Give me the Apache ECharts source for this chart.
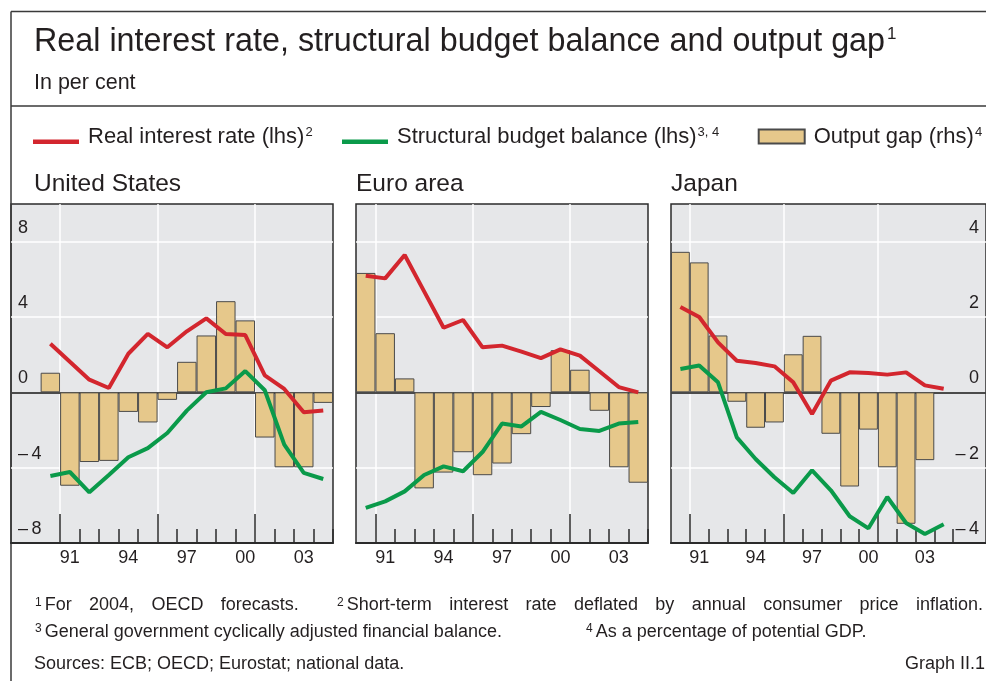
<!DOCTYPE html>
<html><head><meta charset="utf-8">
<script src="https://cdn.jsdelivr.net/npm/echarts@6/dist/echarts.min.js"></script>
<style>html,body{margin:0;padding:0;background:#fff}#c{width:986px;height:681px}</style>
</head><body><div id="c"></div>
<script>
// ---------------- DATA ----------------
const years = [1990,1991,1992,1993,1994,1995,1996,1997,1998,1999,2000,2001,2002,2003,2004];
const tickYears = [1991,1994,1997,2000,2003];
const tickLabels = ['91','94','97','00','03'];
const majorTickYears = [1991,1996,2001];
const lhsTicks = [-8,-4,0,4,8];
const rhsTicks = [-4,-2,0,2,4];
const panelNames = ['United States','Euro area','Japan'];
const seriesNames = ['Real interest rate (lhs)','Structural budget balance (lhs)','Output gap (rhs)'];
const seriesSup = ['2','3, 4','4'];

const usRate     = [2.58,1.62,0.67,0.23,2.05,3.10,2.39,3.24,3.93,3.10,3.04,0.90,0.18,-1.06,-0.97];
const usBalance  = [-4.44,-4.23,-5.31,-4.39,-3.45,-2.96,-2.16,-0.97,0.00,0.21,1.13,0.11,-2.78,-4.28,-4.60];
const usGap      = [0.52,-2.48,-1.85,-1.82,-0.52,-0.80,-0.20,0.81,1.51,2.42,1.91,-1.20,-1.99,-1.99,-0.28];

const euroRate    = [6.19,6.05,7.29,5.36,3.43,3.84,2.39,2.48,2.16,1.82,2.28,1.95,1.12,0.28,0.00];
const euroBalance = [-6.14,-5.79,-5.26,-4.39,-3.93,-4.19,-3.17,-1.66,-1.81,-1.04,-1.47,-1.95,-2.05,-1.66,-1.58];
const euroGap     = [3.17,1.57,0.37,-2.55,-2.13,-1.59,-2.20,-1.89,-1.11,-0.39,1.12,0.60,-0.49,-1.99,-2.40];

const japanRate    = [4.53,4.00,2.65,1.68,1.56,1.38,0.53,-1.15,0.62,1.06,1.03,0.94,1.06,0.37,0.19];
const japanBalance = [1.24,1.42,0.53,-2.39,-3.54,-4.51,-5.35,-4.14,-5.20,-6.58,-7.22,-5.56,-6.94,-7.52,-7.00];
const japanGap     = [3.73,3.45,1.51,-0.25,-0.94,-0.80,1.01,1.50,-1.10,-2.50,-0.99,-1.99,-3.49,-1.80,-0.03];

const panelData = [
  {rate: usRate, balance: usBalance, gap: usGap},
  {rate: euroRate, balance: euroBalance, gap: euroGap},
  {rate: japanRate, balance: japanBalance, gap: japanGap}
];

// ---------------- STYLE / LAYOUT ----------------
const FONT = '"Liberation Sans", Arial, Helvetica, sans-serif';
const TXT = '#231f20';
const RED = '#d3262e';
const GREEN = '#0a9a4a';
const BARFILL = '#e6c88b';
const BG = '#e6e7e9';
const DARK = '#2b2b2b';

const panels = [
  {left: 11,  width: 322, min: 1988.48, max: 2005,    showL: true,  showR: false},
  {left: 356, width: 292, min: 1990,    max: 2005,    showL: false, showR: false},
  {left: 671, width: 327, min: 1990,    max: 2006.75, showL: false, showR: true}
];
const minorTickYears = [];
for (let y = majorTickYears[0]; y <= 2005; y++) if (majorTickYears.indexOf(y) < 0) minorTickYears.push(y);

const fmtY = v => v < 0 ? '\u2013\u2009' + (-v) : String(v);

const grids = [], xAxes = [], yAxes = [], series = [];
panels.forEach((p, i) => {
  grids.push({left: p.left, top: 204, width: p.width, height: 339, show: true,
    backgroundColor: BG, borderColor: DARK, borderWidth: 1.5, containLabel: false});
  xAxes.push({gridIndex: i, type: 'value', min: p.min, max: p.max, position: 'bottom',
    axisLine: {show: true, onZero: false, lineStyle: {color: DARK, width: 2}},
    axisTick: {show: true, inside: true, length: 29, customValues: majorTickYears, lineStyle: {color: DARK, width: 1.5}},
    axisLabel: {show: true, customValues: tickYears.map(y => y + 0.5),
      formatter: v => tickLabels[tickYears.indexOf(Math.round(v - 0.5))] || '',
      fontSize: 18, fontFamily: FONT, color: TXT, margin: 6},
    splitLine: {show: true, lineStyle: {color: '#ffffff', width: 1.5}}
  });
  xAxes.push({gridIndex: i, type: 'value', min: p.min, max: p.max, position: 'bottom',
    axisLine: {show: false, onZero: false},
    axisTick: {show: true, inside: true, length: 14, customValues: minorTickYears, lineStyle: {color: DARK, width: 1.5}},
    axisLabel: {show: false}, splitLine: {show: false}
  });
  yAxes.push({gridIndex: i, type: 'value', min: -8, max: 10, position: 'left',
    axisLine: {show: false, onZero: false}, axisTick: {show: false, customValues: lhsTicks.filter(v => v > -8)},
    axisLabel: {show: p.showL, inside: true, customValues: lhsTicks, formatter: fmtY, fontSize: 18, fontFamily: FONT,
      color: TXT, margin: 7, verticalAlign: 'bottom', padding: [0, 0, 5, 0]},
    splitLine: {show: true, lineStyle: {color: '#ffffff', width: 1.5}}
  });
  yAxes.push({gridIndex: i, type: 'value', min: -4, max: 5, position: 'right',
    axisLine: {show: false, onZero: false}, axisTick: {show: false, customValues: rhsTicks.filter(v => v > -4)},
    axisLabel: {show: p.showR, inside: true, customValues: rhsTicks, formatter: fmtY, fontSize: 18, fontFamily: FONT,
      color: TXT, margin: 7, verticalAlign: 'bottom', padding: [0, 0, 5, 0]},
    splitLine: {show: false}
  });
  const d = panelData[i];
  series.push({type: 'bar', name: seriesNames[2], xAxisIndex: 2 * i, yAxisIndex: 2 * i + 1,
    data: d.gap.map((v, k) => [years[k] + 0.5, v]), barWidth: '100%',
    itemStyle: {color: BARFILL, borderColor: '#4a4a4a', borderWidth: 1},
    markLine: {silent: true, symbol: 'none', label: {show: false}, z: 2,
      lineStyle: {color: '#111', width: 1.5, type: 'solid'}, data: [{yAxis: 0}]}
  });
  series.push({type: 'line', name: seriesNames[0], xAxisIndex: 2 * i, yAxisIndex: 2 * i,
    data: d.rate.map((v, k) => [years[k] + 0.5, v]), symbol: 'none', showSymbol: false,
    lineStyle: {color: RED, width: 4}, itemStyle: {color: RED}, z: 4});
  series.push({type: 'line', name: seriesNames[1], xAxisIndex: 2 * i, yAxisIndex: 2 * i,
    data: d.balance.map((v, k) => [years[k] + 0.5, v]), symbol: 'none', showSymbol: false,
    lineStyle: {color: GREEN, width: 4}, itemStyle: {color: GREEN}, z: 4});
});

// legend: line icons sit low in their box (as in the original), swatch is centred
const lineIcon = 'path://M0,0 M0,16 M0,10.9 L46,10.9 L46,15.5 L0,15.5 Z';
const legendLeft = [33, 342, 757.7];
const legendIcon = [lineIcon, lineIcon, 'rect'];
const legendIconH = [16, 16, 14];
const legends = seriesNames.map((n, k) => ({
  data: [{name: n, icon: legendIcon[k]}], left: legendLeft[k], top: 125.5, padding: 0,
  itemWidth: 46, itemHeight: legendIconH[k],
  selectedMode: false,
  formatter: name => '{t|' + name + '}{s|' + seriesSup[k] + '}',
  textStyle: {rich: {
    t: {fontSize: 22, fontFamily: FONT, color: TXT, fontWeight: 'normal', padding: [0, 0, 0, 4]},
    s: {fontSize: 13, fontFamily: FONT, color: TXT, fontWeight: 'normal', verticalAlign: 'top', padding: [0, 0, 0, 1]}
  }}
}));

const titles = [
  {text: '{t|Real interest rate, structural budget balance and output gap}{s|1}', left: 34, top: 26, padding: 0,
    textStyle: {fontWeight: 'normal', rich: {t: {fontSize: 32.3, fontFamily: FONT, color: TXT, fontWeight: 'normal'},
      s: {fontSize: 17, fontFamily: FONT, color: TXT, fontWeight: 'normal', verticalAlign: 'top', padding: [0, 0, 0, 2]}}}},
  {text: 'In per cent', left: 34, top: 72.5, padding: 0, textStyle: {fontSize: 21.5, fontFamily: FONT, color: TXT, fontWeight: 'normal'}}
];
const panelTitleLeft = [34, 356, 671];
panelNames.forEach((n, i) => titles.push({text: n, left: panelTitleLeft[i], top: 172, padding: 0,
  textStyle: {fontSize: 24.5, fontFamily: FONT, color: TXT, fontWeight: 'normal'}}));

// ---- footnotes (justified first line) ----
const ctx = document.createElement('canvas').getContext('2d');
function tw(t, size) { ctx.font = size + 'px ' + FONT; return ctx.measureText(t).width; }
const footRich = {
  n: {fontSize: 18, fontFamily: FONT, fill: TXT},
  s: {fontSize: 12, fontFamily: FONT, fill: TXT, verticalAlign: 'top', padding: [0, 3, 0, 0]}
};
function textItem(x, top, it) {
  return {type: 'text', x: x, y: top, silent: true,
    style: {text: (it.s ? '{s|' + it.s + '}' : '') + '{n|' + it.t + '}', rich: footRich, verticalAlign: 'top'}};
}
function justify(items, x0, x1, top) {
  const widths = items.map(it => (it.s ? tw(it.s, 12) + 3 : 0) + tw(it.t, 18));
  const total = widths.reduce((a, b) => a + b, 0);
  const weights = items.slice(1).map(it => it.g || 1);
  const unit = (x1 - x0 - total) / weights.reduce((a, b) => a + b, 0);
  let x = x0; const els = [];
  items.forEach((it, k) => { if (k > 0) x += weights[k - 1] * unit; els.push(textItem(x, top, it)); x += widths[k]; });
  return els;
}
const foot1 = 'For 2004, OECD forecasts.'.split(' ').map(t => ({t}));
foot1[0].s = '1';
const foot2 = 'Short-term interest rate deflated by annual consumer price inflation.'.split(' ').map(t => ({t}));
foot2[0].s = '2'; foot2[0].g = 2.2;
const graphics = [
  {type: 'line', shape: {x1: 11, y1: 11.5, x2: 986, y2: 11.5}, style: {stroke: '#3a3a3a', lineWidth: 1.5}, silent: true},
  {type: 'line', shape: {x1: 11, y1: 11.5, x2: 11, y2: 681}, style: {stroke: '#3a3a3a', lineWidth: 1.5}, silent: true},
  {type: 'line', shape: {x1: 11, y1: 106, x2: 986, y2: 106}, style: {stroke: '#3a3a3a', lineWidth: 1.5}, silent: true}
].concat(justify(foot1.concat(foot2), 35, 983, 596.5))
 .concat([
  textItem(35, 623, {s: '3', t: 'General government cyclically adjusted financial balance.'}),
  textItem(586, 623, {s: '4', t: 'As a percentage of potential GDP.'}),
  textItem(34, 654.8, {t: 'Sources: ECB; OECD; Eurostat; national data.'}),
  {type: 'text', x: 985, y: 654.8, silent: true,
    style: {text: 'Graph II.1', font: '18px ' + FONT, fill: TXT, align: 'right', verticalAlign: 'top'}}
 ]);

const chart = echarts.init(document.getElementById('c'), null, {renderer: 'canvas'});
chart.setOption({
  animation: false,
  backgroundColor: '#ffffff',
  title: titles,
  legend: legends,
  grid: grids,
  xAxis: xAxes,
  yAxis: yAxes,
  series: series,
  graphic: graphics
});
</script>
</body></html>
